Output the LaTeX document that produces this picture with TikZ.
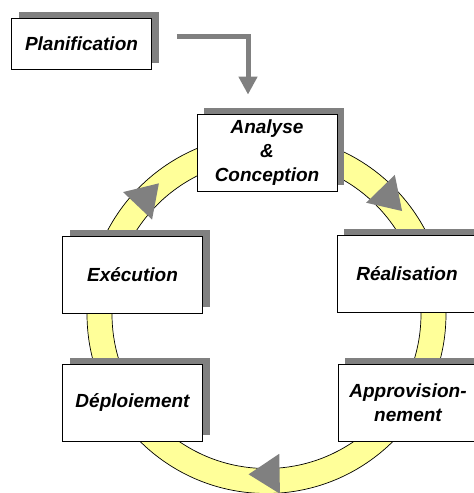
\documentclass[tikz,border=0pt]{standalone}
\usepackage{fontspec}
\setmainfont{Liberation Sans}
\usepackage{tikz}
\usetikzlibrary{arrows.meta,shadows}
\definecolor{bandyellow}{HTML}{FFFF99}
\definecolor{shade}{HTML}{808080}
\tikzset{
  phase/.style={draw=black, line width=0.8pt, fill=white, minimum width=140pt, minimum height=77pt,
    inner sep=0pt, align=center, font=\fontsize{19}{24}\selectfont\bfseries\itshape,
    drop shadow={shadow xshift=7pt, shadow yshift=6pt, fill=shade, opacity=1}},
  cycleband/.style={fill=bandyellow, draw=black, line width=0.7pt, even odd rule},
  cyclehead/.style={fill=shade},
  flow/.style={draw=shade, line width=5pt, line join=miter, -{Triangle[length=18pt,width=18pt]}},
}

\begin{document}
\begin{tikzpicture}[x=1pt, y=1pt]
  \useasboundingbox (0,0) rectangle (474,493);
  \clip (0,0) rectangle (474,493);
  \coordinate (mid) at (266.5,179);
  \path[cycleband] (mid) circle[radius=179.5] (mid) circle[radius=154.5];
  \foreach \a/\r in {136.5/168, 44.2/169, -89/160}
    \fill[cyclehead, shift={(mid)}, rotate=\a] (\r,-20.7) -- (\r-20,10.3) -- (\r+20,10.3) -- cycle;
  \node[phase, minimum height=51pt] (plan) at (81.5,449.5) {Planification};
  \node[phase] (analyse) at (267,340.5) {Analyse\\\&\\Conception};
  \node[phase] (execution) at (132.5,218.5) {Exécution};
  \node[phase] (realisation) at (407,219) {Réalisation};
  \node[phase] (deploiement) at (132.5,90.5) {Déploiement};
  \node[phase] (approv) at (408,90.5) {Approvision-\\nement};
  \coordinate (from) at ([xshift=25pt,yshift=6.5pt]plan.east);
  \coordinate (to) at ([xshift=-19pt,yshift=19pt]analyse.north);
  \draw[flow] (from) -| (to);
\end{tikzpicture}
\end{document}
